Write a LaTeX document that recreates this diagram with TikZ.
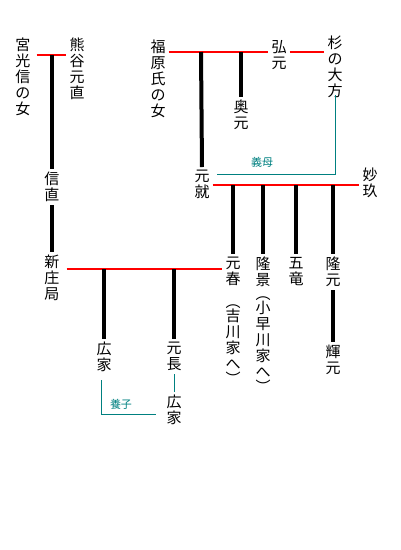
\documentclass[tikz,border=0pt]{standalone}
\usepackage{fontspec}
\newfontfamily\jp{Noto Sans CJK JP}
\begin{document}
\begin{tikzpicture}[x=1pt,y=-1pt,
  person/.style={font=\jp\fontsize{15}{16}\selectfont, align=center, anchor=north, inner sep=3pt},
  note/.style={font=\jp\fontsize{11}{12}\selectfont, text=teal},
  wed/.style={draw,red,line width=2pt},
  kid/.style={draw,line width=4pt},
  adopt/.style={draw,teal,line width=0.8pt}]
\useasboundingbox (0,0) rectangle (400,550);
\node[person] (1) at (23,35) {宮\\光\\信\\の\\女};
\node[person] (2) at (77,35) {熊\\谷\\元\\直};
\node[person] (3) at (52,169) {信\\直};
\node[person] (4) at (52,252) {新\\庄\\局};
\node[person] (5) at (158,37) {福\\原\\氏\\の\\女};
\node[person] (6) at (279,37) {弘\\元};
\node[person] (7) at (335,33) {杉\\の\\大\\方};
\node[person] (8) at (241,97) {奥\\元};
\node[person] (9) at (202,167) {元\\就};
\node[person] (10) at (370,165) {妙\\玖};
\node[person] (11) at (233,254) {元\\春};
\node[person] (12) at (263,254) {隆\\景};
\node[person] (13) at (296,254) {五\\竜};
\node[person] (14) at (333,254) {隆\\元};
\node[person] (15) at (333,342) {輝\\元};
\node[person] (16) at (233,302) {︵\\[-2pt]吉\\川\\家\\へ\\[-1pt]︶};
\node[person] (17) at (263,294) {︵\\[-2pt]小\\早\\川\\家\\へ\\[-1pt]︶};
\node[person] (18) at (104,339) {広\\家};
\node[person] (19) at (174,339) {元\\長};
\node[person] (20) at (174,392) {広\\家};
\node[note] (21) at (262,162) {義母};
\node[note] (22) at (121,404) {養子};
\coordinate (m1) at (52,55);
\coordinate (m2) at (201,52);
\coordinate (m3) at (241,52);
\coordinate (m4) at (233,185);
\coordinate (m5) at (104,269);
\coordinate (a1) at (217,174);
\coordinate (a2) at (156,414);
\coordinate (a3) at (101,380);
\path[wed] ([xshift=3pt]1.east|-m1) -- (2.west|-m1);
\path[wed] (5.east|-m2) -- (6.west|-m2);
\path[wed] (6.east|-m2) -- (7.west|-m2);
\path[wed] (9.east|-m4) -- (10.west|-m4);
\path[wed] ([xshift=4pt]4.east|-m5) -- (11.west|-m5);
\path[kid] (m1) -- (3.north);
\path[kid] (3.south) -- (4.north);
\path[kid] (m2) -- (9.north);
\path[kid] (m3) -- (8.north);
\path[kid] (m4) -- (11.north);
\path[kid] (12.north|-m4) -- (12.north);
\path[kid] (13.north|-m4) -- (13.north);
\path[kid] (14.north|-m4) -- (14.north);
\path[kid] (14.south) -- (15.north);
\path[kid] (m5) -- (18.north);
\path[kid] (19.north|-m5) -- (19.north);
\path[adopt] ([yshift=6pt]7.south) |- (a1);
\path[adopt] (a3) |- (a2);
\path[adopt] (19.south) -- (20.north);
\end{tikzpicture}
\end{document}
